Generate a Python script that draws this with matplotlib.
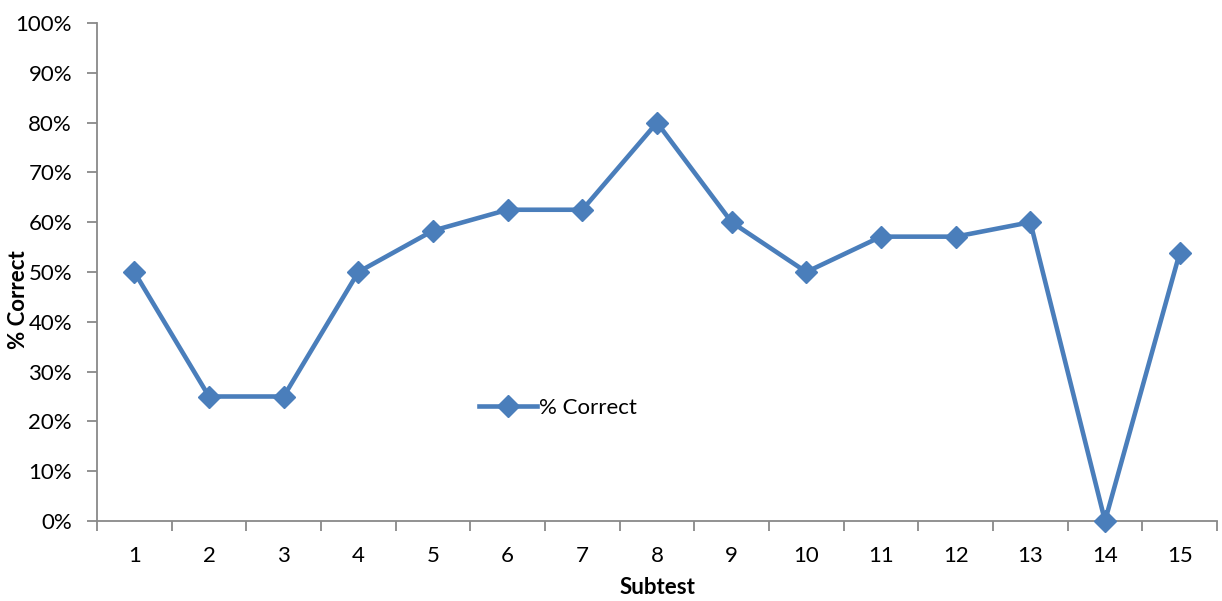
import matplotlib
matplotlib.use("Agg")
import matplotlib.pyplot as plt
from matplotlib.ticker import FixedLocator, PercentFormatter

categories = ["1", "2", "3", "4", "5", "6", "7", "8", "9", "10", "11", "12", "13", "14", "15"]
pct_correct = [50, 25, 25, 50, 58.3, 62.5, 62.5, 80, 60, 50, 57.1, 57.1, 60, 0, 53.8]
series_name = "% Correct"
y_ticks = [0, 10, 20, 30, 40, 50, 60, 70, 80, 90, 100]

plt.rcParams['font.family'] = ['Lato', 'DejaVu Sans']
W, H = 1222, 601
fig = plt.figure(figsize=(W / 100, H / 100), dpi=100)
ax = fig.add_axes([97 / W, (H - 521) / H, (1217 - 97) / W, (521 - 23) / H])

color = "#4A7EBB"
x = list(range(len(categories)))
line, = ax.plot(x, pct_correct, color=color, lw=3.3, marker="D", markersize=11,
                label=series_name, solid_joinstyle="round", clip_on=False, zorder=3)

ax.set_xlim(-0.5, len(categories) - 0.5)
ax.set_ylim(0, 100)
ax.set_xticks(x)
ax.set_xticklabels(categories)
ax.xaxis.set_minor_locator(FixedLocator([i - 0.5 for i in range(len(categories) + 1)]))
ax.set_yticks(y_ticks)
ax.yaxis.set_major_formatter(PercentFormatter(decimals=0))

grey = "#898989"
for s in ["top", "right"]:
    ax.spines[s].set_visible(False)
for s in ["left", "bottom"]:
    ax.spines[s].set_color(grey)
    ax.spines[s].set_linewidth(1.3)
ax.tick_params(axis="x", which="major", length=0, labelsize=16, pad=18)
ax.tick_params(axis="x", which="minor", length=7, color=grey, width=1.3)
ax.tick_params(axis="y", which="major", length=7, color=grey, width=1.3, labelsize=16, pad=11)

fig.text(19 / W, 1 - 300 / H, "% Correct", rotation=90, fontsize=16, fontweight="bold",
         ha="center", va="center")
fig.text(657 / W, 1 - 588 / H, "Subtest", fontsize=16, fontweight="bold",
         ha="center", va="center")

fig.legend(handles=[line], loc="center left", bbox_to_anchor=(459 / W, 1 - 408 / H),
           frameon=False, fontsize=16, handlelength=2.6, handletextpad=0.1)

fig.savefig("out.png", dpi=100)
